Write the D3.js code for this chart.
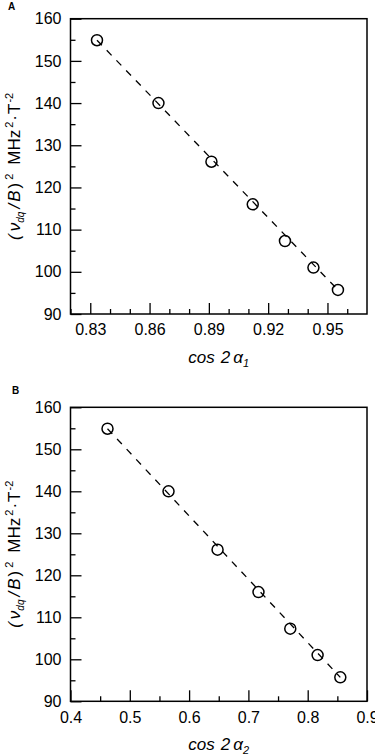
<!DOCTYPE html>
<html>
<head>
<meta charset="utf-8">
<script src="https://cdn.jsdelivr.net/npm/d3@7"></script>
<style>
  body { margin: 0; background: #fff; }
  svg { display: block; font-family: "Liberation Sans", Arial, sans-serif; }
  .tick text { font-size: 16px; fill: #000; }
  .tick line { stroke: #000; stroke-width: 1.3; }
</style>
</head>
<body>
<div id="chart"></div>
<script>
// Values
const yValues = [154.9, 140.0, 126.1, 116.0, 107.3, 101.0, 95.7];
const xValuesA = [0.8334, 0.8645, 0.8913, 0.9122, 0.9285, 0.9429, 0.9553];
const xValuesB = [0.4624, 0.5653, 0.648, 0.717, 0.7706, 0.8167, 0.855];

// dashed fit lines (end points)
const fitA = [[0.8334, 154.9], [0.9553, 95.7]];
const fitB = [[0.4624, 154.9], [0.855, 95.7]];

// ticks
const yMajor = [90, 100, 110, 120, 130, 140, 150, 160];
const yMinor = [95, 105, 115, 125, 135, 145, 155];
const xMajorA = [0.83, 0.86, 0.89, 0.92, 0.95];
const xMinorA = [0.82, 0.84, 0.85, 0.87, 0.88, 0.90, 0.91, 0.93, 0.94, 0.96];
const xMajorB = [0.4, 0.5, 0.6, 0.7, 0.8, 0.9];
const xMinorB = [0.45, 0.55, 0.65, 0.75, 0.85];

const W = 375, H = 755;

const svg = d3.select("#chart")
    .append("svg")
    .attr("width", W)
    .attr("height", H);

function drawPanel(opts) {
    const left = 70.5, right = 367;
    const x = d3.scaleLinear().domain(opts.xDomain).range([left, right]);
    const y = d3.scaleLinear().domain([90, 160]).range([opts.bottom, opts.top]);

    const g = svg.append("g");

    // panel letter
    g.append("text")
        .attr("x", opts.letterX)
        .attr("y", opts.letterY)
        .style("font-size", "10px")
        .style("font-weight", "bold")
        .text(opts.letter);

    // minor ticks
    g.append("g")
        .attr("transform", "translate(0," + opts.bottom + ")")
        .call(d3.axisBottom(x).tickValues(opts.xMinor).tickSize(-5).tickFormat(""))
        .call(a => a.select(".domain").remove());
    g.append("g")
        .attr("transform", "translate(" + left + ",0)")
        .call(d3.axisLeft(y).tickValues(yMinor).tickSize(-5).tickFormat(""))
        .call(a => a.select(".domain").remove());

    // major ticks with labels
    g.append("g")
        .attr("transform", "translate(0," + opts.bottom + ")")
        .call(d3.axisBottom(x).tickValues(opts.xMajor).tickSize(-11)
            .tickPadding(10).tickFormat(d3.format(opts.xFormat)))
        .call(a => a.select(".domain").remove());
    g.append("g")
        .attr("transform", "translate(" + left + ",0)")
        .call(d3.axisLeft(y).tickValues(yMajor).tickSize(-11)
            .tickPadding(9).tickFormat(d3.format("d")))
        .call(a => a.select(".domain").remove());

    // frame
    g.append("rect")
        .attr("x", left)
        .attr("y", opts.top)
        .attr("width", right - left)
        .attr("height", opts.bottom - opts.top)
        .attr("fill", "none")
        .attr("stroke", "#000")
        .attr("stroke-width", 1.5);

    // dashed line
    g.append("path")
        .datum(opts.fit)
        .attr("d", d3.line().x(d => x(d[0])).y(d => y(d[1])))
        .attr("fill", "none")
        .attr("stroke", "#000")
        .attr("stroke-width", 1.3)
        .attr("stroke-dasharray", "7,7");

    // points
    g.selectAll(".pt")
        .data(opts.xs.map((v, i) => [v, yValues[i]]))
        .enter()
        .append("circle")
        .attr("class", "pt")
        .attr("cx", d => x(d[0]))
        .attr("cy", d => y(d[1]))
        .attr("r", 5.5)
        .attr("fill", "none")
        .attr("stroke", "#000")
        .attr("stroke-width", 1.5);

    // x axis title
    const xt = g.append("text")
        .attr("x", (left + right) / 2)
        .attr("y", opts.bottom + 49)
        .attr("text-anchor", "middle")
        .style("font-size", "17px")
        .style("font-style", "italic");
    xt.append("tspan").text("cos");
    xt.append("tspan").attr("dx", 6).text("2");
    xt.append("tspan").attr("dx", 3).text("α");
    xt.append("tspan").attr("dy", 4).style("font-size", "11px").text(opts.sub);

    // y axis title
    const yt = g.append("text")
        .attr("transform", "translate(19.5," + (opts.top + opts.bottom) / 2 + ") rotate(-90)")
        .attr("text-anchor", "middle")
        .style("font-size", "17px");
    yt.append("tspan").style("font-style", "italic").text("(");
    yt.append("tspan").attr("dx", 3).style("font-style", "italic").text("ν");
    yt.append("tspan").attr("dy", 4).style("font-size", "10px").style("font-style", "italic").text("dq");
    yt.append("tspan").attr("dy", -4).attr("dx", 3).style("font-style", "italic").text("/");
    yt.append("tspan").attr("dx", 2).style("font-style", "italic").text("B");
    yt.append("tspan").attr("dx", 2).text(")");
    yt.append("tspan").attr("dy", -7).attr("dx", 3).style("font-size", "11px").text("2");
    yt.append("tspan").attr("dy", 7).attr("dx", 9).text("MHz");
    yt.append("tspan").attr("dy", -7).attr("dx", 2).style("font-size", "11px").text("2");
    yt.append("tspan").attr("dy", 7).attr("dx", 1).text("·");
    yt.append("tspan").attr("dx", 1).text("T");
    yt.append("tspan").attr("dy", -7).attr("dx", 1).style("font-size", "11px").text("-2");
}

drawPanel({
    letter: "A", letterX: 8, letterY: 10,
    top: 18.7, bottom: 314,
    xDomain: [0.82, 0.97], xMajor: xMajorA, xMinor: xMinorA, xFormat: ".2f",
    xs: xValuesA, fit: fitA, sub: "1"
});

drawPanel({
    letter: "B", letterX: 12, letterY: 394,
    top: 407.3, bottom: 701.3,
    xDomain: [0.4, 0.9], xMajor: xMajorB, xMinor: xMinorB, xFormat: ".1f",
    xs: xValuesB, fit: fitB, sub: "2"
});
</script>
</body>
</html>
